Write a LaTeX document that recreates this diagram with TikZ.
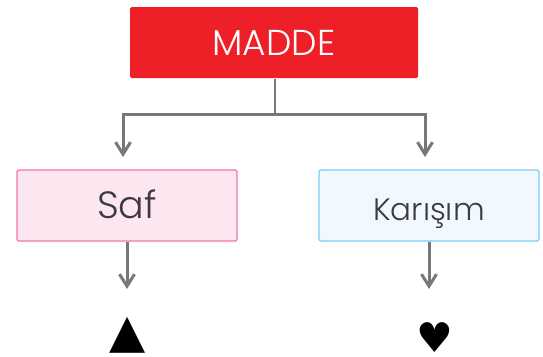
\documentclass[tikz,border=0pt]{standalone}
\usepackage{fontspec}
\setmainfont{Poppins Light}
\newfontfamily\symfont{DejaVu Sans}
\usetikzlibrary{arrows.meta}
\definecolor{redbox}{HTML}{EE1F27}
\definecolor{pinkfill}{HTML}{FCE6F0}
\definecolor{pinkline}{HTML}{F472B0}
\definecolor{bluefill}{HTML}{F1F9FE}
\definecolor{blueline}{HTML}{7CCBF5}
\definecolor{linegray}{HTML}{77787B}
\definecolor{inkdark}{HTML}{3A3A40}
\tikzset{
  x=1pt,y=-1pt,
  boxbase/.style={rounded corners=1.5pt,minimum width=220pt,minimum height=71pt,inner sep=0pt,line width=1.2pt,anchor=center},
  redstyle/.style={boxbase,fill=redbox,minimum width=288pt,text=white,font=\fontsize{36}{40}\selectfont},
  pinkstyle/.style={boxbase,draw=pinkline,fill=pinkfill,text=inkdark,text height=25pt,text depth=0pt,font=\fontsize{38}{42}\selectfont},
  bluestyle/.style={boxbase,draw=blueline,fill=bluefill,text=inkdark,text height=29pt,text depth=0pt,font=\fontsize{31}{36}\selectfont},
  conn/.style={draw=linegray,line width=3pt,-{Straight Barb[length=12pt,width=15pt,line width=3pt]}},
  connline/.style={draw=linegray,line width=2.2pt},
  symb/.style={inner sep=0pt,text=black},
  tristyle/.style={symb,font=\symfont\fontsize{47}{47}\selectfont},
  heartstyle/.style={symb,font=\symfont\fontsize{41}{41}\selectfont}
}
\begin{document}
\begin{tikzpicture}
\useasboundingbox (0,0) rectangle (543,356);
\node[redstyle] (madde) at (274,42.5) {MADDE};
\node[pinkstyle] (saf) at (127,205.5) {Saf};
\node[bluestyle] (karisim) at (429,205.5) {Karışım};
\coordinate (branch) at (275,114);
\coordinate (leftturn) at (123,114);
\coordinate (rightturn) at (425,114);
\coordinate (lefttip) at (123,157);
\coordinate (righttip) at (425,157);
\coordinate (saftip) at (127,289);
\coordinate (kartip) at (429,289);
\node[tristyle] (tri) at (127.5,335) {▲};
\node[heartstyle] (heart) at (434.5,337.5) {♥};
\draw[connline] (madde.south -| branch) -- (branch);
\draw[conn] (branch) -- (leftturn) -- (lefttip);
\draw[conn] (branch) -- (rightturn) -- (righttip);
\draw[conn] (saf.south) -- (saftip);
\draw[conn] (karisim.south) -- (kartip);
\end{tikzpicture}
\end{document}
